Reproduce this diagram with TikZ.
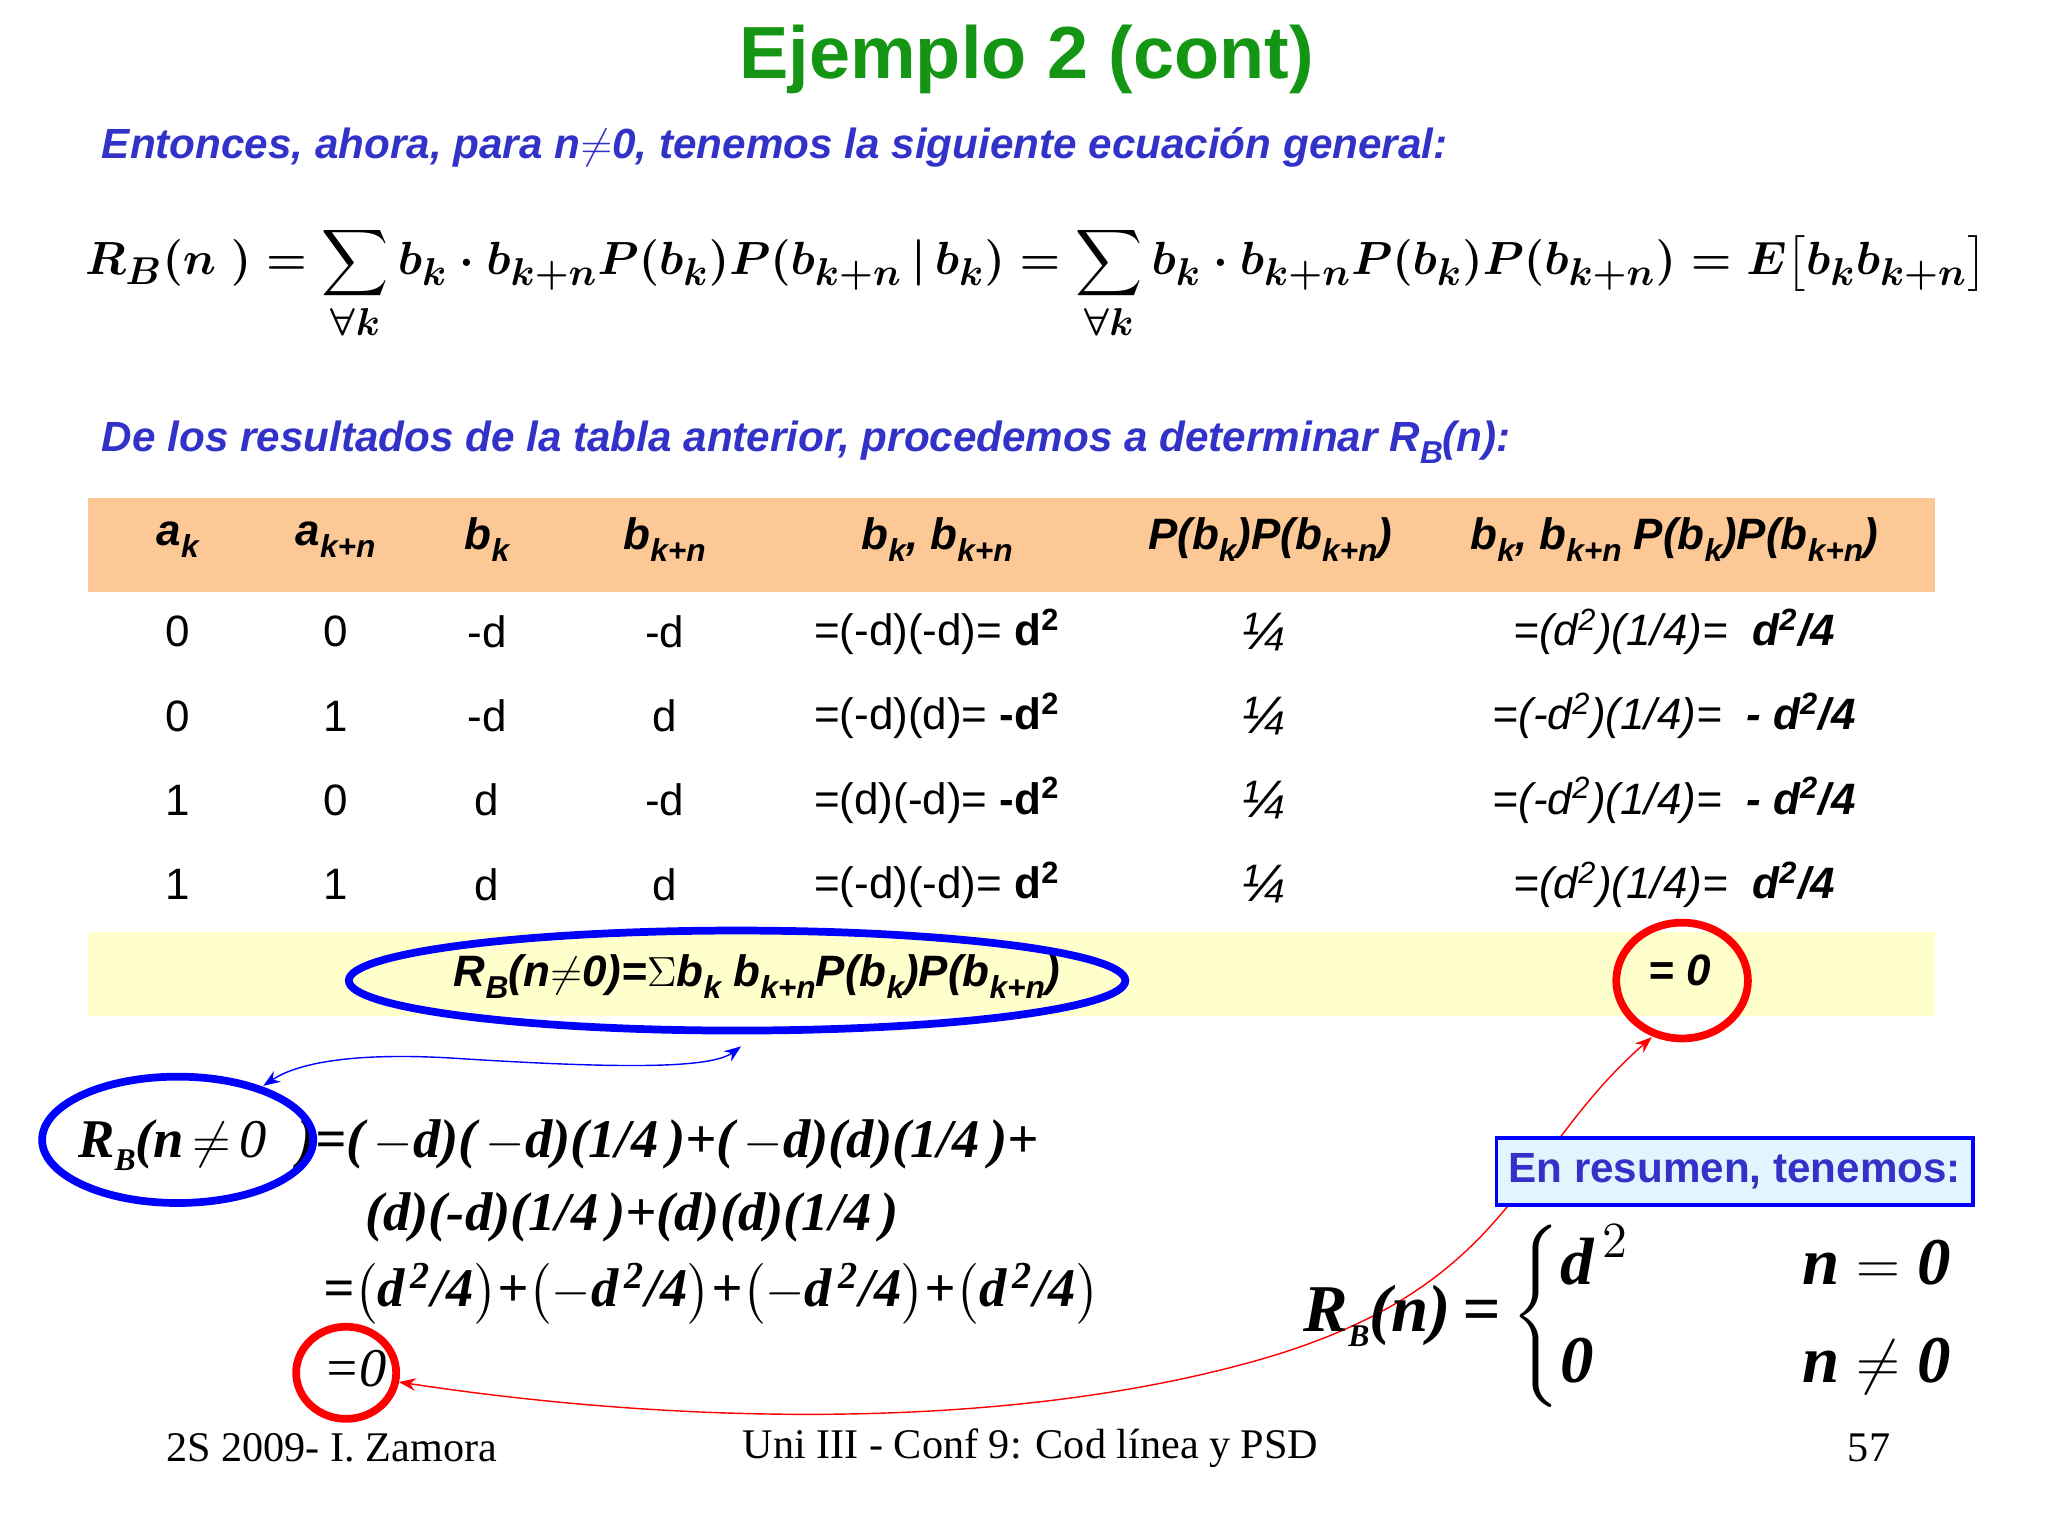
\documentclass[tikz,border=0pt]{standalone}
\usepackage{amsmath}
\usepackage{graphicx}
\usepackage{fontspec}
\setmainfont{Liberation Serif}
\newfontfamily\arialf{Liberation Sans}
\usetikzlibrary{arrows.meta}
\definecolor{tgreen}{RGB}{20,150,20}
\definecolor{tblue}{RGB}{50,50,200}
\definecolor{horange}{RGB}{252,200,150}
\definecolor{hyellow}{RGB}{255,255,204}
\newsavebox{\eqbox}
\newcommand{\dn}[1]{\raisebox{-0.5ex}{\fontsize{9}{10}\selectfont #1}}
\newcommand{\up}[1]{\textsuperscript{#1}}
\tikzset{cell/.style={font=\arialf\fontsize{12.5}{15}\selectfont,anchor=center},
 hcell/.style={font=\arialf\bfseries\itshape\fontsize{12.5}{15}\selectfont,anchor=center},
 blueline/.style={draw=blue,line width=2.2pt},
 redline/.style={draw=red,line width=2.2pt}}
\begin{document}
\sbox{\eqbox}{\resizebox{19.0cm}{!}{\fontsize{19}{22}\selectfont\boldmath$\displaystyle R_B(n\;)=\sum_{\forall k} b_k\cdot b_{k+n}P(b_k)P(b_{k+n}\,\vert\,b_k)=\sum_{\forall k} b_k\cdot b_{k+n}P(b_k)P(b_{k+n})=E\big[b_kb_{k+n}\big]$}}%
\begin{tikzpicture}[x=0.01316cm,y=-0.01316cm]
\useasboundingbox (0,0) rectangle (1556,1167);
\node (title) at (780,45) {\arialf\bfseries\fontsize{21}{25}\selectfont\color{tgreen}Ejemplo 2 (cont)};
\node[anchor=west] (s1) at (68,112) {\arialf\bfseries\itshape\fontsize{12}{15}\selectfont\color{tblue}Entonces, ahora, para n$\neq$0, tenemos la siguiente ecuación general:};
\node (eq1) at (787,215) {\usebox{\eqbox}};
\node[anchor=west] (s2) at (68,336) {\arialf\bfseries\itshape\fontsize{12}{15}\selectfont\color{tblue}De los resultados de la tabla anterior, procedemos a determinar R\dn{B}(n):};
\fill[horange] (67,378) rectangle (1470,450);
\fill[hyellow] (67,708) rectangle (1470,772);
\foreach \x/\t in {135/a\dn{k},255/a\dn{k+n},370/b\dn{k},505/b\dn{k+n},712/{b\dn{k}, b\dn{k+n}},965/P(b\dn{k})P(b\dn{k+n}),1272/{b\dn{k}, b\dn{k+n} P(b\dn{k})P(b\dn{k+n})}}
 \node[hcell] at (\x,410) {\t};
\foreach \y/\a/\b/\c/\d/\e/\f in {480/0/0/-d/-d/{=(-d)(-d)= \textbf{d\up{2}}}/{=(d\up{2})(1/4)=~ \textbf{d\up{2}/4}},
 544/0/1/-d/d/{=(-d)(d)= \textbf{-d\up{2}}}/{=(-d\up{2})(1/4)=~ \textbf{- d\up{2}/4}},
 608/1/0/d/-d/{=(d)(-d)= \textbf{-d\up{2}}}/{=(-d\up{2})(1/4)=~ \textbf{- d\up{2}/4}},
 672/1/1/d/d/{=(-d)(-d)= \textbf{d\up{2}}}/{=(d\up{2})(1/4)=~ \textbf{d\up{2}/4}}}{
 \node[cell] at (135,\y) {\a};\node[cell] at (255,\y) {\b};\node[cell] at (370,\y) {\c};\node[cell] at (505,\y) {\d};
 \node[cell] at (712,\y) {\e};\node[cell,font=\arialf\itshape\fontsize{15}{15}\selectfont] at (960,\y) {¼};
 \node[cell,font=\arialf\itshape\fontsize{12.5}{15}\selectfont] at (1272,\y) {\f};}
\node[hcell] (rb) at (575,742) {R\dn{B}(n$\neq$0)=$\Sigma$b\dn{k} b\dn{k+n}P(b\dn{k})P(b\dn{k+n})};
\draw[blueline] (560,745) ellipse (295 and 38);
\node[hcell] (z0) at (1276,737) {= 0};
\draw[redline] (1278,745) ellipse (50 and 44);
\node[font=\fontsize{15.5}{19}\selectfont\bfseries\itshape,anchor=west] (l1) at (50,870) {R\dn{B}(n$\,\neq\,$\textmd{0}\;\;)=(\,$-$d)(\,$-$d)(1/4\,)+(\,$-$d)(d)(1/4\,)+};
\node[font=\fontsize{15.5}{19}\selectfont\bfseries\itshape,anchor=west] (l2) at (268,925) {(d)(-d)(1/4\,)+(d)(d)(1/4\,)};
\node[font=\fontsize{15.5}{19}\selectfont\bfseries\itshape,anchor=west] (l3) at (236,983) {=$\big($d\up{\,2}/4$\big)$+$\big($$-$d\up{\,2}/4$\big)$+$\big($$-$d\up{\,2}/4$\big)$+$\big($d\up{\,2}/4$\big)$};
\node[font=\fontsize{15.5}{19}\selectfont\itshape,anchor=west] (l4) at (236,1040) {=0};
\draw[blueline] (135,866) ellipse (103 and 48);
\draw[redline] (263,1043) ellipse (38 and 35);
\coordinate (ba) at (563,795); \coordinate (bb) at (200,825);
\draw[blue,{Stealth}-{Stealth}] (ba) .. controls (540,812) and (470,812) .. (345,804) .. controls (280,800) and (230,805) .. (bb);
\coordinate (ra) at (1255,788); \coordinate (rb2) at (303,1050);
\draw[red,{Stealth}-{Stealth}] (ra) .. controls (1150,880) and (1150,980) .. (950,1035) .. controls (750,1090) and (500,1080) .. (rb2);
\node[draw=blue,fill=cyan!12,line width=1pt,minimum width=4.71cm,minimum height=0.67cm,font=\arialf\bfseries\fontsize{12}{15}\selectfont,text=tblue] (box) at (1318,890) {En resumen, tenemos:};
\node[font=\fontsize{19}{24}\selectfont\bfseries\itshape] (cases) at (1238,1000) {R\dn{B}(n)\,=\,$\left\{\begin{array}{@{}l@{\hspace{2.6em}}r@{}}\textbf{\textit{d}}^{\,2} & \textbf{\textit{n}}=\textit{0}\\[4pt] \textit{0} & \textbf{\textit{n}}\neq\textit{0}\end{array}\right.$};
\node[font=\fontsize{12}{14}\selectfont] (f1) at (252,1100) {2S 2009- I. Zamora};
\node[font=\fontsize{12}{14}\selectfont] (f2) at (783,1100) {Uni III - Conf 9: Cod línea y PSD};
\node[font=\fontsize{12}{14}\selectfont] (f3) at (1420,1100) {57};
\end{tikzpicture}
\end{document}
